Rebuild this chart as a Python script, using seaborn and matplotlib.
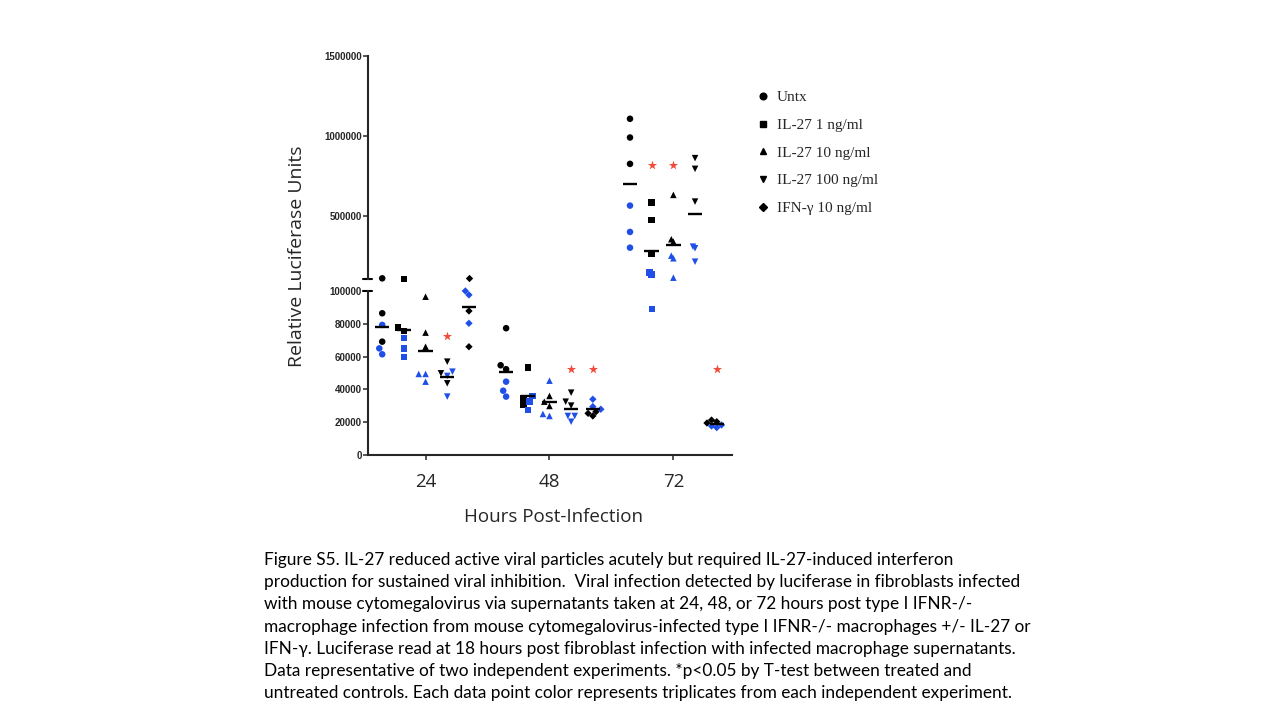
import numpy as np
import pandas as pd
import matplotlib
matplotlib.use("Agg")
import matplotlib.pyplot as plt
import matplotlib.transforms as mtrans
from matplotlib.lines import Line2D
import seaborn as sns

# ---------------- data ----------------
hours = [24, 48, 72]
treatments = ["Untx", "IL-27 1 ng/ml", "IL-27 10 ng/ml", "IL-27 100 ng/ml", "IFN-γ 10 ng/ml"]
experiments = ["Exp 1", "Exp 2"]

# each list: [24 h triplicate, 48 h triplicate, 72 h triplicate]
untx_exp1 = [[107700, 86400, 69100], [77300, 54700, 52300], [1105500, 988400, 823700]]
untx_exp2 = [[79300, 65000, 61400], [44700, 39200, 35600], [562600, 398000, 299600]]
il27_1_exp1 = [[107300, 77600, 75600], [53500, 34600, 30500], [581400, 471200, 264500]]
il27_1_exp2 = [[71200, 65000, 59800], [36000, 32500, 27400], [145600, 133100, 89000]]
il27_10_exp1 = [[96500, 74600, 66000], [36000, 32500, 29900], [629600, 352200, 337200]]
il27_10_exp2 = [[49400, 49400, 44700], [45300, 25000, 23800], [249500, 233200, 111800]]
il27_100_exp1 = [[56900, 49800, 43700], [38000, 32500, 30100], [859400, 792400, 587700]]
il27_100_exp2 = [[50800, 48200, 35600], [23800, 23800, 20300], [305900, 295900, 211900]]
ifn_exp1 = [[108400, 87800, 66000], [26400, 25400, 23800], [21300, 20300, 19500]]
ifn_exp2 = [[100000, 97600, 80300], [34000, 29500, 27900], [18300, 17700, 16700]]

series = {
    treatments[0]: (untx_exp1, untx_exp2),
    treatments[1]: (il27_1_exp1, il27_1_exp2),
    treatments[2]: (il27_10_exp1, il27_10_exp2),
    treatments[3]: (il27_100_exp1, il27_100_exp2),
    treatments[4]: (ifn_exp1, ifn_exp2),
}

# significance stars (*p<0.05)
star_hours = [24, 48, 48, 72, 72, 72]
star_treatments = [treatments[3], treatments[3], treatments[4], treatments[1], treatments[2], treatments[4]]
star_values = [72800, 52300, 52300, 817500, 817500, 52400]

lower_ticks = [0, 20000, 40000, 60000, 80000, 100000]
upper_ticks = [500000, 1000000, 1500000]
hour_labels = ["24", "48", "72"]

caption_lines = [
    "Figure S5. IL-27 reduced active viral particles acutely but required IL-27-induced interferon",
    "production for sustained viral inhibition.  Viral infection detected by luciferase in fibroblasts infected",
    "with mouse cytomegalovirus via supernatants taken at 24, 48, or 72 hours post type I IFNR-/-",
    "macrophage infection from mouse cytomegalovirus-infected type I IFNR-/- macrophages +/- IL-27 or",
    "IFN-γ. Luciferase read at 18 hours post fibroblast infection with infected macrophage supernatants.",
    "Data representative of two independent experiments. *p<0.05 by T-test between treated and",
    "untreated controls. Each data point color represents triplicates from each independent experiment.",
]

# ---------------- style ----------------
markers = ["o", "s", "^", "v", "D"]
marker_scale = [1.0, 1.0, 1.0, 1.0, 0.8]
offsets = [-8.4, -4.2, 0.0, 4.2, 8.4]
palette = {"Exp 1": "black", "Exp 2": "#1f4fe6"}
star_color = "#ee4b3a"

rows = []
for ti, t in enumerate(treatments):
    for ei, e in enumerate(experiments):
        arr = series[t][ei]
        for hi, h in enumerate(hours):
            for v in arr[hi]:
                rows.append(dict(treatment=t, experiment=e, hour=h, value=v, x=h + offsets[ti]))
df = pd.DataFrame(rows)

sns.set_style("ticks")
plt.rcParams["font.family"] = ["Open Sans", "DejaVu Sans"]

W, H = 1280, 720
fig = plt.figure(figsize=(12.8, 7.2), dpi=100)
fig.patch.set_facecolor("white")


def fx(px):
    return px / W


def fy(py):
    return 1 - py / H


x_left, x_right = 367.5, 731.7
low_top, low_bot = 278.0, 455.0
up_top, up_bot = 55.7, 279.0
LOW_LIM = (0, 107900)
UP_LIM = (103600, 1500000)
XLIM = (12.75, 83.3)

ax_low = fig.add_axes([fx(x_left), fy(low_bot), (x_right - x_left) / W, (low_bot - low_top) / H])
ax_up = fig.add_axes([fx(x_left), fy(up_bot), (x_right - x_left) / W, (up_bot - up_top) / H])

for ax, lim, sel in [
    (ax_low, LOW_LIM, df["value"] <= LOW_LIM[1]),
    (ax_up, UP_LIM, df["value"] > LOW_LIM[1]),
]:
    sub = df[sel]
    for ti, t in enumerate(treatments):
        s = sub[sub["treatment"] == t]
        if len(s) == 0:
            continue
        sns.swarmplot(data=s, x="x", y="value", hue="experiment", hue_order=experiments,
                      palette=palette, marker=markers[ti], size=4.7 * marker_scale[ti],
                      native_scale=True, ax=ax, legend=False, clip_on=False, zorder=3,
                      warn_thresh=1)

# mean lines
means = df.groupby(["treatment", "hour"])["value"].mean()
for ti, t in enumerate(treatments):
    for h in hours:
        m = means[(t, h)]
        ax = ax_up if m > LOW_LIM[1] else ax_low
        xc = h + offsets[ti]
        ax.hlines(m, xc - 1.4, xc + 1.4, color="black", lw=1.7, zorder=4)

# stars
for h, t, v in zip(star_hours, star_treatments, star_values):
    ax = ax_up if v > LOW_LIM[1] else ax_low
    ax.scatter([h + offsets[treatments.index(t)]], [v], marker="*", s=48,
               color=star_color, linewidths=0, zorder=5)

# axes styling
for ax in (ax_low, ax_up):
    ax.set_facecolor("none")
    ax.set_xlim(XLIM)
    ax.spines["top"].set_visible(False)
    ax.spines["right"].set_visible(False)
    ax.spines["left"].set_linewidth(1.5)
    ax.set_xlabel("")
    ax.set_ylabel("")
    ax.tick_params(axis="y", direction="out", length=3.6, width=1.1, pad=0.6, labelsize=7)

ax_low.set_ylim(LOW_LIM)
ax_low.set_yticks(lower_ticks)
ax_low.set_yticklabels([str(v) for v in lower_ticks])
ax_low.spines["left"].set_bounds(0, 100000)
ax_low.spines["bottom"].set_linewidth(1.5)
ax_low.set_xticks(hours)
ax_low.set_xticklabels(hour_labels)
ax_low.tick_params(axis="x", direction="out", length=3.6, width=1.1, pad=9.5, labelsize=13.5)

ax_up.set_ylim(UP_LIM)
ax_up.set_yticks(upper_ticks)
ax_up.set_yticklabels([str(v) for v in upper_ticks])
ax_up.spines["left"].set_bounds(UP_LIM[0], 1500000)
ax_up.spines["bottom"].set_visible(False)
ax_up.set_xticks([])

for ax in (ax_low, ax_up):
    for lab in ax.get_yticklabels():
        lab.set_fontweight("bold")
        lab.set_family(["Liberation Sans", "DejaVu Sans"])

# axis break caps
d = 4.5 / (x_right - x_left)
ax_up.plot([-d, d], [0, 0], transform=ax_up.transAxes, color="black", lw=1.5, clip_on=False)
tr = mtrans.blended_transform_factory(ax_low.transAxes, ax_low.transData)
ax_low.plot([-d, d], [100000, 100000], transform=tr, color="black", lw=1.5, clip_on=False)

# axis labels
ax_low.set_xlabel("Hours Post-Infection", fontsize=13.5)
ax_low.xaxis.label.set_va("center")
ax_low.xaxis.set_label_coords((553 - x_left) / (x_right - x_left), (low_bot - 516.7) / (low_bot - low_top))
ax_low.set_ylabel("Relative Luciferase Units", fontsize=14)
ax_low.yaxis.label.set_va("center")
ax_low.yaxis.set_label_coords((297 - x_left) / (x_right - x_left), (low_bot - 256) / (low_bot - low_top))

# legend
handles = [Line2D([], [], marker=m, color="black", linestyle="None", markersize=4.8 * sc)
           for m, sc in zip(markers, marker_scale)]
fig.legend(handles, treatments, loc="upper left", bbox_to_anchor=(fx(758.4), fy(90.5)),
           frameon=False, prop={"family": ["Liberation Serif", "DejaVu Serif"], "size": 11},
           handlelength=0.6, handletextpad=0.62, labelspacing=0.92, borderpad=0, borderaxespad=0)

# caption
base0, step = 565.0, 22.2
for i, line in enumerate(caption_lines):
    fig.text(fx(264), fy(base0 + i * step), line, va="baseline", ha="left",
             fontsize=12.4, family=["Lato", "DejaVu Sans"], color="black")

fig.savefig("out.png", dpi=100, facecolor="white")
